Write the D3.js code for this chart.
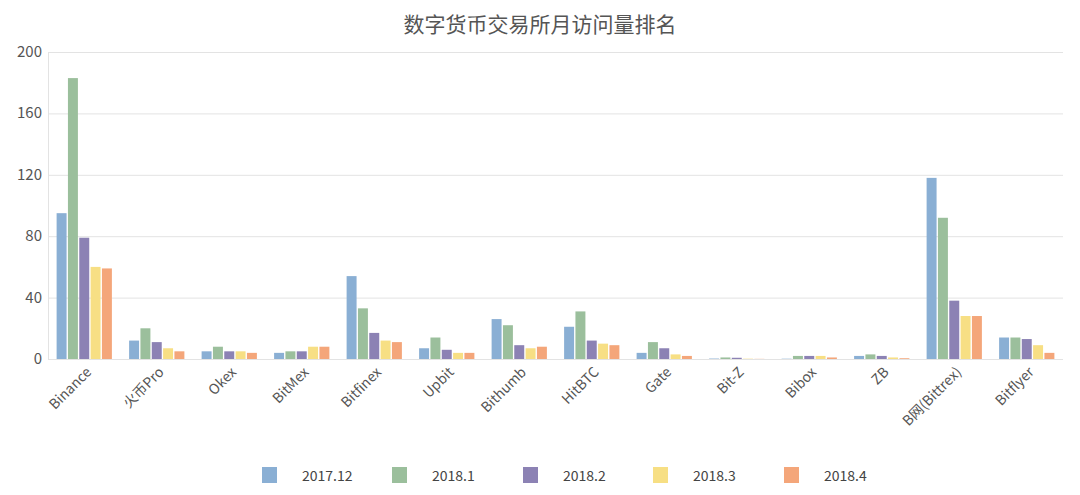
<!DOCTYPE html>
<html><head><meta charset="utf-8">
<script src="https://cdn.jsdelivr.net/npm/d3@7/dist/d3.min.js"></script>
<style>body{margin:0;background:#fff;font-family:"Noto Sans CJK SC","Noto Sans",sans-serif}</style>
</head><body><svg id="c" width="1080" height="495"></svg>
<script>
const categories=["Binance","火币Pro","Okex","BitMex","Bitfinex","Upbit","Bithumb","HitBTC","Gate","Bit-Z","Bibox","ZB","B网(Bittrex)","Bitflyer"];
const seriesNames=["2017.12","2018.1","2018.2","2018.3","2018.4"];
const s201712=[95,12,5,4,54,7,26,21,4,0.3,0.2,2,118,14];
const s20181=[183,20,8,5,33,14,22,31,11,1,2,3,92,14];
const s20182=[79,11,5,5,17,6,9,12,7,0.8,2,2,38,13];
const s20183=[60,7,5,8,12,4,7,10,3,0.2,2,1,28,9];
const s20184=[59,5,4,8,11,4,8,9,2,0.1,1,0.5,28,4];
const yTicks=[0,40,80,120,160,200];
const colors=["#8aafd4","#9bbf9c","#8c82b4","#f7df84","#f4a67a"];
const series=[s201712,s20181,s20182,s20183,s20184];

const svg=d3.select("#c");
const m={l:48,r:1063,t:52,b:359};
const x=d3.scaleBand().domain(categories).range([m.l,m.r]).paddingInner(0.2).paddingOuter(0.1);
const xi=d3.scaleBand().domain(seriesNames).range([0,x.bandwidth()]).padding(0.12);
const y=d3.scaleLinear().domain([0,200]).range([m.b,m.t]);

svg.append("text").attr("x",540).attr("y",32).attr("text-anchor","middle").attr("font-size",21).attr("fill","#555").text("数字货币交易所月访问量排名");

svg.append("g").selectAll("line").data(yTicks).join("line").attr("x1",m.l).attr("x2",m.r)
 .attr("y1",d=>y(d)+0.5).attr("y2",d=>y(d)+0.5).attr("stroke","#e3e3e3");
svg.append("line").attr("x1",m.l+0.5).attr("x2",m.l+0.5).attr("y1",m.t).attr("y2",m.b).attr("stroke","#e3e3e3");
svg.append("g").selectAll("text").data(yTicks).join("text").attr("x",m.l-6).attr("y",d=>y(d)+5)
 .attr("text-anchor","end").attr("font-size",15).attr("fill","#555").text(d=>d);

series.forEach((s,si)=>{
 svg.append("g").selectAll("rect").data(s).join("rect")
  .attr("x",(d,i)=>x(categories[i])+xi(seriesNames[si])).attr("width",xi.bandwidth())
  .attr("y",d=>y(d)).attr("height",d=>y(0)-y(d)).attr("fill",colors[si]);
});

svg.append("g").selectAll("text").data(categories).join("text")
 .attr("transform",d=>`translate(${x(d)+x.bandwidth()/2+8},${m.b+14}) rotate(-45)`)
 .attr("text-anchor","end").attr("font-size",14).attr("fill","#555").text(d=>d);

const lx=[262,392,523,653,784];
seriesNames.forEach((n,i)=>{
 svg.append("rect").attr("x",lx[i]).attr("y",467).attr("width",15).attr("height",16).attr("fill",colors[i]);
 svg.append("text").attr("x",lx[i]+40).attr("y",481).attr("font-size",14).attr("fill","#444").text(n);
});
</script></body></html>
